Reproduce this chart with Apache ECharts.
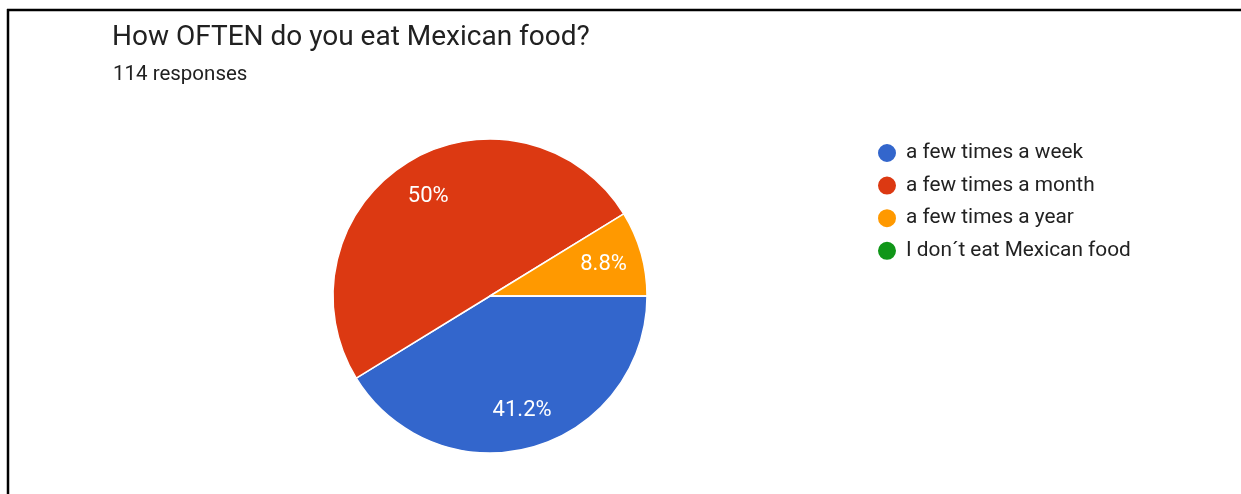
<!DOCTYPE html>
<html>
<head>
<meta charset="utf-8">
<script src="https://cdn.jsdelivr.net/npm/echarts@6/dist/echarts.min.js"></script>
<style>
  html, body { margin: 0; padding: 0; background: #ffffff; }
  #chart { width: 1241px; height: 494px; }
</style>
</head>
<body>
<div id="chart"></div>
<script>
// Survey answers: how often people eat Mexican food
const categories = ['a few times a week', 'a few times a month', 'a few times a year', 'I don´t eat Mexican food'];
const responses = [47, 57, 10, 0];
const sliceColors = ['#3366cc', '#dc3912', '#ff9900', '#109618'];
const questionTitle = 'How OFTEN do you eat Mexican food?';
const responseCount = '114 responses';

const pieData = categories.map((name, i) => ({ name: name, value: responses[i] }));

const chart = echarts.init(document.getElementById('chart'));
chart.setOption({
  backgroundColor: '#ffffff',
  color: sliceColors,
  animation: false,
  title: [
    {
      text: questionTitle,
      left: 107,
      top: 19,
      textStyle: { fontFamily: 'Roboto', fontSize: 28, fontWeight: 'normal', color: '#212121' }
    },
    {
      text: responseCount,
      left: 108,
      top: 59,
      textStyle: { fontFamily: 'Roboto', fontSize: 20.5, fontWeight: 'normal', color: '#212121' }
    }
  ],
  legend: {
    orient: 'vertical',
    left: 871,
    top: 137,
    icon: 'circle',
    itemWidth: 20,
    itemHeight: 20,
    itemGap: 10.6,
    selectedMode: false,
    data: categories,
    textStyle: { fontFamily: 'Roboto', fontSize: 20.8, color: '#222222', padding: [0, 0, 0, 4] }
  },
  graphic: [
    { type: 'line', shape: { x1: 7, y1: 10, x2: 1241, y2: 10 }, style: { stroke: '#000000', lineWidth: 2.5 } },
    { type: 'line', shape: { x1: 8, y1: 9, x2: 8, y2: 494 }, style: { stroke: '#000000', lineWidth: 2.5 } }
  ],
  series: [
    {
      type: 'pie',
      center: [490, 296],
      radius: [0, 157],
      startAngle: 0,
      clockwise: true,
      avoidLabelOverlap: false,
      label: { show: false },
      labelLine: { show: false },
      itemStyle: { borderColor: '#ffffff', borderWidth: 1.5 },
      emphasis: { disabled: true },
      data: pieData
    },
    {
      // transparent ring that only carries the percentage labels
      type: 'pie',
      center: [490, 297],
      radius: [100, 130],
      startAngle: 0,
      clockwise: true,
      silent: true,
      percentPrecision: 1,
      avoidLabelOverlap: false,
      itemStyle: { color: 'rgba(0,0,0,0)', borderWidth: 0 },
      labelLine: { show: false },
      label: {
        show: true,
        position: 'inside',
        fontFamily: 'Roboto',
        fontSize: 22,
        color: '#ffffff',
        formatter: p => (p.value > 0 ? p.percent + '%' : '')
      },
      emphasis: { disabled: true },
      data: pieData
    }
  ]
});
</script>
</body>
</html>
